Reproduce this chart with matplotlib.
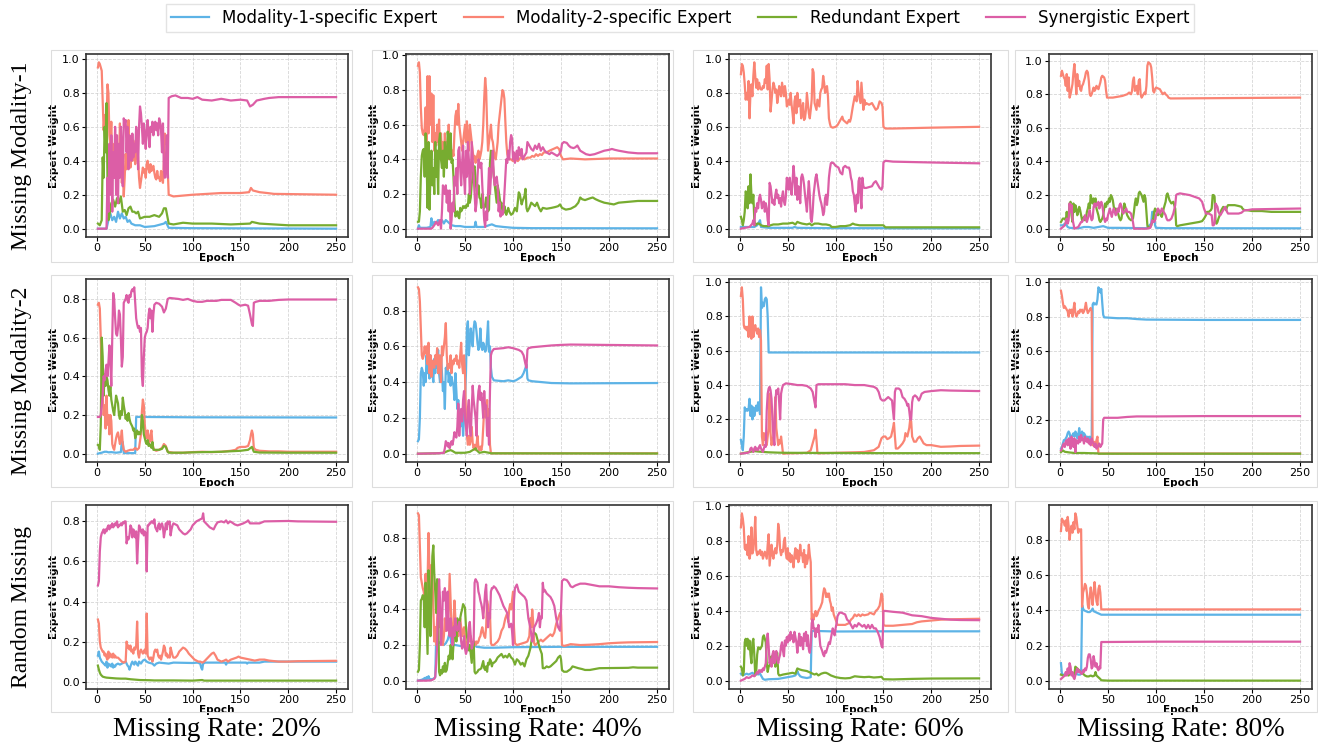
import matplotlib
matplotlib.use("Agg")
import matplotlib.pyplot as plt
from matplotlib.patches import Rectangle

# expert weight traces, (epoch, weight)
# row 1: missing modality-1
mm1_20_m1 = [(1,.0),(10,.0),(12,.05),(14,.09),(16,.05),(18,.07),(20,.04),(22,.1),(24,.06),(26,.09),(28,.06),(30,.07),(32,.04),(34,.05),(36,.03),(40,.02),(45,.02),(50,.01),(60,.015),(70,.03),(72,.04),(75,.005),(100,.003),(250,.0)]
mm1_20_m2 = [(1,.95),(2,.98),(3,.97),(5,.93),(6,.75),(7,.58),(8,.67),(9,.5),(10,.6),(11,.85),(12,.8),(13,.55),(14,.5),(15,.63),(16,.4),(17,.32),(18,.5),(19,.45),(20,.54),(21,.3),(22,.45),(23,.35),(24,.62),(25,.4),(26,.27),(27,.35),(28,.19),(29,.3),(30,.44),(31,.35),(32,.5),(33,.64),(34,.45),(35,.36),(36,.48),(37,.4),(38,.52),(39,.45),(40,.38),(41,.42),(42,.48),(43,.42),(44,.3),(45,.24),(46,.28),(47,.32),(48,.36),(49,.33),(50,.35),(51,.3),(52,.38),(53,.4),(54,.35),(55,.33),(56,.38),(57,.34),(58,.36),(59,.37),(60,.33),(61,.3),(62,.29),(63,.34),(64,.3),(65,.3),(66,.28),(67,.34),(68,.3),(69,.27),(70,.4),(71,.56),(72,.5),(73,.52),(74,.35),(75,.2),(80,.19),(90,.195),(100,.2),(115,.205),(130,.21),(150,.21),(159,.215),(161,.24),(163,.225),(170,.215),(178,.21),(185,.205),(250,.2)]
mm1_20_red = [(1,.03),(3,.02),(5,.05),(6,.42),(7,.3),(8,.6),(9,.45),(10,.74),(11,.3),(12,.05),(13,.08),(15,.15),(17,.17),(19,.13),(21,.18),(23,.15),(25,.19),(27,.1),(29,.11),(31,.08),(33,.12),(35,.13),(37,.1),(39,.1),(41,.09),(43,.1),(45,.06),(50,.07),(55,.07),(60,.08),(65,.07),(68,.09),(70,.12),(72,.12),(74,.06),(75,.03),(80,.025),(90,.035),(100,.03),(120,.03),(140,.025),(160,.03),(162,.04),(170,.03),(200,.02),(250,.02)]
mm1_20_syn = [(1,.0),(10,.0),(11,.3),(12,.1),(13,.5),(14,.2),(15,.55),(16,.1),(17,.45),(18,.3),(19,.6),(20,.2),(21,.55),(22,.15),(23,.5),(24,.3),(25,.6),(26,.45),(27,.25),(28,.65),(29,.62),(30,.64),(31,.45),(32,.6),(33,.35),(34,.55),(35,.5),(36,.4),(37,.56),(38,.42),(39,.5),(40,.45),(41,.6),(42,.55),(43,.35),(44,.6),(45,.72),(46,.68),(47,.6),(48,.5),(49,.62),(50,.55),(51,.47),(52,.58),(53,.64),(54,.55),(55,.48),(56,.6),(57,.57),(58,.63),(59,.55),(60,.6),(61,.63),(62,.58),(63,.62),(64,.55),(65,.65),(66,.63),(67,.58),(68,.45),(69,.62),(70,.35),(71,.3),(72,.4),(73,.55),(74,.3),(75,.77),(78,.78),(82,.785),(88,.77),(95,.77),(100,.765),(105,.775),(110,.76),(120,.755),(130,.765),(140,.755),(150,.76),(157,.755),(160,.72),(163,.73),(167,.755),(175,.765),(180,.77),(190,.775),(250,.775)]

mm1_40_m1 = [(1,.0),(2,.02),(3,.005),(10,.005),(14,.01),(15,.06),(16,.02),(18,.04),(20,.03),(22,.05),(24,.04),(26,.05),(28,.03),(30,.05),(32,.04),(34,.03),(36,.02),(40,.015),(45,.015),(50,.01),(58,.01),(60,.01),(61,.04),(62,.01),(70,.01),(75,.02),(78,.025),(82,.015),(90,.01),(100,.005),(120,.003),(250,.002)]
mm1_40_m2 = [(1,.94),(2,.96),(3,.9),(4,.7),(5,.58),(6,.55),(7,.54),(8,.58),(9,.7),(10,.5),(11,.88),(12,.55),(13,.88),(14,.6),(15,.78),(16,.5),(17,.77),(18,.45),(19,.55),(20,.48),(21,.6),(22,.5),(23,.63),(24,.45),(25,.55),(26,.42),(27,.5),(28,.4),(29,.55),(30,.45),(31,.5),(32,.4),(33,.6),(34,.45),(35,.5),(36,.4),(37,.45),(38,.42),(39,.55),(40,.65),(41,.68),(42,.6),(43,.72),(44,.6),(45,.55),(46,.5),(47,.45),(48,.5),(49,.55),(50,.6),(51,.5),(52,.62),(53,.5),(54,.45),(55,.6),(56,.55),(57,.5),(58,.45),(59,.4),(60,.42),(61,.38),(62,.4),(63,.43),(64,.45),(65,.4),(66,.42),(67,.45),(68,.5),(69,.6),(70,.75),(71,.87),(72,.8),(73,.6),(74,.45),(75,.5),(76,.55),(77,.6),(78,.52),(79,.5),(80,.45),(81,.42),(82,.4),(83,.45),(84,.5),(85,.6),(86,.65),(87,.7),(88,.75),(89,.8),(90,.79),(91,.75),(92,.62),(93,.5),(94,.43),(95,.41),(96,.4),(98,.4),(100,.39),(102,.4),(105,.39),(108,.41),(112,.4),(115,.41),(118,.41),(120,.42),(122,.415),(124,.43),(126,.42),(128,.43),(130,.425),(132,.44),(135,.44),(138,.45),(142,.46),(146,.47),(148,.46),(150,.42),(152,.4),(160,.405),(175,.4),(200,.405),(250,.405)]
mm1_40_red = [(1,.04),(2,.04),(3,.1),(4,.3),(5,.42),(6,.45),(7,.46),(8,.3),(9,.55),(10,.4),(11,.12),(12,.5),(13,.11),(14,.3),(15,.45),(16,.25),(17,.35),(18,.2),(19,.5),(20,.3),(21,.45),(22,.2),(23,.5),(24,.55),(25,.4),(26,.35),(27,.45),(28,.3),(29,.5),(30,.4),(31,.35),(32,.56),(33,.5),(34,.4),(35,.55),(36,.38),(37,.4),(38,.3),(39,.15),(40,.07),(41,.08),(42,.1),(43,.07),(44,.06),(45,.12),(46,.1),(47,.11),(48,.13),(49,.12),(50,.13),(51,.12),(52,.14),(53,.13),(54,.2),(55,.15),(56,.18),(57,.26),(58,.3),(59,.35),(60,.36),(61,.28),(62,.22),(63,.2),(64,.25),(65,.18),(66,.17),(67,.12),(68,.2),(69,.13),(70,.12),(71,.13),(72,.18),(73,.12),(74,.1),(75,.11),(76,.38),(77,.45),(78,.4),(79,.37),(80,.3),(81,.25),(82,.2),(83,.15),(84,.25),(85,.22),(86,.18),(87,.14),(88,.15),(89,.1),(90,.09),(91,.13),(92,.1),(93,.08),(94,.1),(95,.12),(96,.1),(97,.09),(98,.08),(100,.09),(102,.12),(104,.1),(106,.21),(107,.2),(109,.14),(110,.16),(112,.19),(113,.23),(114,.12),(115,.1),(117,.12),(119,.15),(121,.14),(123,.13),(125,.15),(127,.12),(129,.1),(131,.12),(135,.115),(140,.12),(144,.125),(147,.13),(149,.14),(151,.12),(155,.11),(160,.115),(165,.13),(168,.15),(170,.18),(172,.17),(175,.165),(180,.175),(183,.18),(186,.17),(190,.16),(195,.15),(200,.145),(205,.14),(210,.15),(220,.155),(230,.16),(250,.16)]
mm1_40_syn = [(1,.0),(15,.0),(16,.005),(18,.02),(20,.04),(22,.02),(24,.05),(25,.0),(26,.1),(27,.25),(28,.22),(29,.2),(30,.25),(31,.15),(32,.22),(33,.1),(34,.22),(35,.0),(36,.05),(37,.15),(38,.1),(39,.3),(40,.25),(41,.35),(42,.2),(43,.45),(44,.47),(45,.35),(46,.25),(47,.38),(48,.48),(49,.3),(50,.2),(51,.45),(52,.3),(53,.5),(54,.4),(55,.2),(56,.3),(57,.5),(58,.4),(59,.3),(60,.2),(61,.1),(62,.15),(63,.3),(64,.4),(65,.38),(66,.35),(67,.38),(68,.25),(69,.15),(70,.05),(71,.01),(72,.1),(73,.05),(74,.2),(75,.35),(76,.2),(77,.3),(78,.38),(79,.45),(80,.3),(81,.25),(82,.28),(83,.3),(84,.25),(85,.1),(86,.15),(87,.07),(88,.1),(89,.08),(90,.1),(91,.2),(92,.3),(93,.4),(94,.38),(95,.45),(96,.4),(97,.5),(98,.54),(99,.52),(100,.4),(101,.44),(102,.38),(103,.42),(104,.45),(105,.4),(106,.47),(107,.45),(108,.42),(109,.46),(110,.4),(112,.42),(114,.44),(115,.5),(117,.48),(119,.46),(121,.45),(123,.48),(125,.46),(127,.49),(129,.45),(131,.47),(133,.45),(135,.44),(138,.43),(140,.44),(143,.43),(146,.42),(148,.43),(150,.45),(151,.49),(153,.5),(156,.495),(158,.48),(160,.47),(163,.465),(165,.47),(167,.48),(170,.45),(173,.44),(176,.43),(180,.425),(185,.43),(190,.44),(195,.45),(200,.455),(203,.46),(206,.455),(210,.45),(220,.44),(230,.435),(250,.435)]

mm1_60_m1 = [(1,.01),(10,.01),(15,.01),(18,.02),(20,.04),(21,.05),(22,.01),(30,.005),(50,.005),(55,.005),(57,.01),(60,.005),(100,.003),(150,.003),(152,.002),(250,.002)]
mm1_60_m2 = [(1,.91),(2,.97),(3,.96),(4,.92),(5,.85),(6,.76),(7,.8),(8,.76),(9,.87),(10,.65),(11,.8),(12,.85),(13,.78),(14,.9),(15,.98),(16,.9),(17,.83),(18,.88),(19,.82),(20,.86),(21,.83),(22,.82),(23,.82),(24,.84),(25,.83),(26,.88),(27,.86),(28,.96),(29,.82),(30,.97),(31,.88),(32,.69),(33,.75),(34,.82),(35,.86),(36,.84),(37,.8),(38,.82),(39,.74),(40,.78),(41,.84),(42,.8),(43,.78),(44,.86),(45,.82),(46,.78),(47,.84),(48,.8),(49,.72),(50,.73),(51,.76),(52,.73),(53,.8),(54,.73),(55,.68),(56,.62),(57,.75),(58,.78),(59,.68),(60,.8),(61,.72),(62,.75),(63,.76),(64,.65),(65,.7),(66,.74),(67,.64),(68,.65),(69,.7),(70,.8),(71,.74),(72,.68),(73,.65),(74,.7),(75,.76),(76,.94),(77,.92),(78,.74),(79,.72),(80,.7),(81,.76),(82,.74),(83,.72),(84,.8),(85,.82),(86,.83),(87,.9),(88,.86),(89,.8),(90,.83),(91,.84),(92,.78),(93,.65),(94,.62),(95,.6),(97,.595),(100,.6),(102,.61),(104,.63),(106,.65),(107,.66),(108,.64),(110,.63),(112,.62),(114,.64),(115,.63),(116,.65),(118,.72),(120,.78),(122,.75),(123,.87),(124,.8),(126,.74),(127,.86),(128,.78),(129,.7),(130,.76),(131,.73),(132,.74),(135,.73),(138,.74),(140,.72),(142,.7),(144,.71),(146,.75),(148,.74),(149,.72),(150,.6),(152,.59),(160,.59),(200,.595),(250,.6)]
mm1_60_red = [(1,.07),(2,.05),(3,.02),(4,.05),(5,.1),(6,.22),(7,.2),(8,.12),(9,.25),(10,.15),(11,.32),(12,.2),(13,.15),(14,.2),(15,.05),(16,.02),(17,.025),(18,.03),(20,.03),(22,.02),(25,.015),(30,.015),(32,.02),(35,.025),(40,.025),(45,.03),(50,.03),(55,.035),(58,.025),(60,.04),(62,.035),(65,.03),(70,.025),(73,.03),(75,.02),(78,.03),(82,.03),(86,.025),(90,.025),(94,.02),(96,.01),(100,.01),(105,.015),(110,.015),(115,.02),(118,.03),(120,.025),(125,.02),(150,.02),(152,.008),(250,.008)]
mm1_60_syn = [(1,.0),(5,.005),(10,.01),(13,.03),(14,.05),(15,.02),(16,.12),(17,.1),(18,.15),(19,.12),(20,.18),(21,.2),(22,.17),(23,.12),(24,.15),(25,.16),(26,.1),(27,.15),(28,.12),(29,.05),(30,.02),(31,.27),(32,.25),(33,.2),(34,.15),(35,.17),(36,.14),(37,.2),(38,.23),(39,.18),(40,.2),(41,.15),(42,.18),(43,.13),(44,.19),(45,.22),(46,.16),(47,.14),(48,.19),(49,.3),(50,.25),(51,.23),(52,.3),(53,.24),(54,.2),(55,.28),(56,.37),(57,.3),(58,.2),(59,.3),(60,.17),(61,.25),(62,.22),(63,.15),(64,.3),(65,.32),(66,.3),(67,.26),(68,.2),(69,.15),(70,.1),(71,.2),(72,.28),(73,.2),(74,.06),(75,.04),(76,.1),(77,.2),(78,.25),(79,.3),(80,.32),(81,.28),(82,.24),(83,.2),(84,.17),(85,.15),(86,.12),(87,.08),(88,.1),(89,.18),(90,.2),(91,.14),(92,.2),(93,.3),(94,.35),(95,.385),(96,.39),(98,.385),(100,.37),(103,.36),(105,.33),(107,.32),(108,.36),(110,.37),(112,.36),(114,.36),(115,.34),(116,.3),(117,.28),(118,.22),(119,.2),(120,.15),(121,.1),(122,.2),(123,.15),(124,.28),(125,.3),(126,.19),(127,.12),(128,.3),(129,.25),(130,.24),(132,.24),(135,.245),(138,.25),(140,.27),(142,.28),(144,.26),(146,.24),(148,.23),(149,.25),(150,.39),(152,.4),(160,.395),(200,.39),(250,.385)]

mm1_80_m1 = [(1,.02),(3,.02),(5,.03),(7,.02),(8,.01),(10,.005),(20,.003),(25,.01),(30,.01),(35,.005),(40,.01),(45,.015),(50,.005),(60,.005),(90,.003),(95,.03),(96,.1),(97,.1),(98,.08),(99,.02),(100,.005),(110,.003),(250,.002)]
mm1_80_m2 = [(1,.91),(2,.94),(3,.92),(4,.9),(5,.89),(6,.85),(7,.92),(8,.82),(9,.9),(10,.78),(11,.8),(12,.83),(13,.86),(14,.93),(15,.98),(16,.9),(17,.8),(18,.92),(19,.85),(20,.88),(21,.83),(22,.82),(23,.85),(24,.86),(25,.88),(26,.9),(27,.93),(28,.94),(29,.93),(30,.88),(31,.8),(32,.79),(33,.8),(34,.82),(35,.84),(36,.82),(37,.83),(38,.85),(39,.84),(40,.83),(41,.85),(42,.87),(43,.9),(44,.91),(45,.905),(46,.9),(47,.88),(48,.82),(49,.78),(55,.78),(60,.785),(65,.79),(70,.8),(72,.81),(74,.8),(75,.82),(76,.88),(77,.9),(78,.82),(79,.84),(80,.85),(81,.8),(82,.88),(83,.89),(84,.8),(85,.78),(86,.79),(87,.8),(88,.81),(89,.8),(90,.85),(91,.97),(92,.99),(93,.985),(94,.98),(95,.96),(96,.9),(97,.82),(98,.81),(99,.83),(100,.84),(102,.835),(104,.83),(105,.82),(107,.8),(109,.81),(110,.8),(112,.79),(113,.78),(115,.775),(250,.78)]
mm1_80_red = [(1,.04),(2,.05),(3,.06),(5,.06),(6,.05),(7,.1),(8,.05),(9,.08),(10,.15),(11,.16),(12,.08),(13,.04),(14,.15),(15,.1),(16,.14),(17,.12),(18,.08),(19,.1),(20,.13),(21,.11),(22,.08),(23,.05),(24,.06),(25,.07),(26,.05),(27,.06),(28,.1),(29,.12),(30,.15),(31,.12),(32,.2),(33,.17),(34,.15),(35,.18),(36,.16),(37,.18),(38,.12),(39,.1),(40,.08),(41,.05),(42,.04),(43,.05),(44,.06),(45,.08),(46,.12),(47,.15),(48,.13),(49,.16),(50,.15),(51,.18),(52,.16),(53,.2),(54,.19),(55,.17),(56,.13),(57,.1),(58,.12),(59,.11),(60,.1),(61,.08),(62,.06),(63,.05),(64,.06),(65,.1),(66,.12),(67,.15),(68,.13),(69,.1),(70,.08),(72,.06),(74,.05),(76,.06),(77,.1),(78,.15),(79,.18),(80,.14),(81,.16),(82,.21),(83,.22),(84,.21),(85,.2),(86,.18),(87,.16),(88,.2),(89,.18),(90,.1),(91,.02),(92,.005),(93,.005),(94,.01),(95,.02),(96,.04),(97,.06),(98,.1),(99,.12),(100,.11),(101,.09),(102,.08),(103,.09),(104,.1),(105,.08),(106,.07),(107,.09),(108,.12),(110,.16),(111,.2),(112,.21),(113,.19),(114,.17),(115,.16),(116,.15),(118,.16),(120,.12),(121,.02),(122,.015),(125,.02),(130,.025),(135,.03),(140,.035),(145,.04),(148,.045),(150,.06),(152,.08),(153,.1),(155,.1),(157,.11),(158,.12),(159,.2),(160,.2),(161,.19),(162,.04),(163,.03),(164,.04),(165,.06),(167,.09),(168,.11),(169,.12),(170,.13),(172,.12),(173,.11),(174,.13),(175,.14),(178,.14),(182,.14),(186,.135),(189,.13),(190,.12),(192,.11),(195,.11),(200,.105),(210,.105),(220,.1),(250,.1)]
mm1_80_syn = [(1,.0),(3,.01),(5,.02),(6,.04),(7,.06),(8,.03),(9,.05),(10,.15),(11,.1),(12,.14),(13,.06),(14,.03),(15,.0),(17,.005),(19,.01),(20,.02),(21,.03),(22,.04),(23,.04),(24,.05),(25,.06),(26,.08),(27,.06),(28,.04),(29,.06),(30,.09),(31,.11),(32,.07),(33,.05),(34,.06),(35,.13),(36,.15),(37,.13),(38,.15),(39,.14),(40,.16),(41,.12),(42,.14),(43,.16),(44,.14),(45,.1),(46,.06),(47,.04),(48,.06),(49,.05),(50,.08),(51,.1),(52,.12),(53,.09),(54,.07),(55,.1),(56,.12),(57,.1),(58,.08),(59,.09),(60,.12),(61,.1),(62,.14),(63,.15),(64,.13),(65,.1),(66,.09),(67,.1),(68,.11),(69,.12),(70,.1),(72,.1),(74,.09),(76,.04),(77,.0),(90,.0),(94,.005),(95,.02),(96,.05),(97,.04),(98,.04),(99,.05),(100,.08),(101,.1),(102,.12),(103,.11),(104,.09),(105,.1),(106,.12),(108,.1),(110,.08),(111,.06),(112,.05),(114,.05),(116,.06),(118,.09),(120,.14),(121,.2),(122,.205),(125,.21),(130,.205),(135,.2),(140,.19),(145,.18),(148,.16),(150,.12),(152,.09),(155,.09),(158,.08),(159,.02),(160,.02),(161,.03),(162,.15),(163,.14),(164,.13),(165,.1),(167,.08),(168,.09),(170,.11),(172,.13),(174,.1),(175,.09),(186,.09),(189,.095),(190,.1),(192,.11),(195,.11),(200,.115),(250,.12)]

# row 2: missing modality-2
mm2_20_m1 = [(1,.0),(3,.003),(5,.005),(8,.01),(10,.01),(12,.007),(15,.008),(20,.005),(25,.008),(26,.065),(27,.06),(28,.003),(40,.003),(41,.19),(45,.19),(100,.188),(250,.187)]
mm2_20_m2 = [(1,.77),(2,.78),(3,.75),(4,.6),(5,.4),(6,.3),(7,.2),(8,.25),(9,.13),(10,.3),(11,.15),(12,.2),(13,.1),(14,.2),(15,.17),(16,.05),(17,.03),(18,.02),(19,.05),(20,.08),(21,.1),(22,.11),(23,.08),(24,.05),(25,.08),(26,.12),(27,.05),(28,.02),(30,.01),(32,.015),(35,.02),(38,.02),(40,.03),(42,.02),(44,.03),(46,.1),(47,.22),(48,.28),(49,.25),(50,.15),(51,.1),(52,.08),(53,.12),(54,.07),(55,.06),(56,.1),(57,.12),(58,.05),(59,.03),(60,.02),(62,.015),(65,.02),(68,.03),(70,.05),(72,.04),(74,.01),(80,.005),(90,.005),(100,.008),(110,.01),(120,.008),(130,.01),(140,.015),(145,.02),(147,.03),(150,.035),(155,.035),(158,.04),(160,.07),(161,.1),(162,.12),(163,.1),(164,.03),(166,.02),(170,.015),(180,.012),(190,.012),(200,.01),(250,.01)]
mm2_20_red = [(1,.045),(2,.04),(3,.02),(4,.15),(5,.6),(6,.5),(7,.3),(8,.41),(9,.35),(10,.4),(11,.38),(12,.33),(13,.3),(14,.35),(15,.28),(16,.25),(17,.22),(18,.2),(19,.25),(20,.3),(21,.28),(22,.26),(23,.2),(24,.18),(25,.22),(26,.2),(27,.29),(28,.25),(29,.22),(30,.18),(31,.2),(32,.17),(33,.21),(34,.18),(35,.16),(36,.15),(37,.14),(38,.12),(39,.13),(40,.08),(41,.1),(42,.12),(43,.1),(44,.11),(45,.1),(46,.12),(47,.2),(48,.17),(49,.1),(50,.08),(51,.06),(52,.05),(53,.07),(54,.04),(55,.05),(56,.04),(57,.03),(58,.06),(59,.02),(65,.02),(68,.025),(70,.04),(72,.035),(74,.01),(75,.005),(90,.005),(100,.007),(110,.008),(130,.01),(150,.015),(158,.02),(162,.035),(164,.01),(170,.006),(200,.005),(250,.005)]
mm2_20_syn = [(1,.19),(3,.19),(4,.2),(5,.25),(6,.3),(7,.4),(8,.38),(9,.43),(10,.46),(11,.4),(12,.47),(13,.56),(14,.48),(15,.35),(16,.6),(17,.83),(18,.8),(19,.7),(20,.62),(21,.61),(22,.65),(23,.74),(24,.72),(25,.6),(26,.45),(27,.5),(28,.78),(29,.79),(30,.8),(31,.82),(32,.79),(33,.78),(34,.82),(35,.81),(36,.84),(37,.85),(38,.84),(39,.86),(40,.78),(41,.7),(42,.67),(43,.65),(44,.66),(45,.63),(46,.65),(47,.4),(48,.35),(49,.5),(50,.6),(51,.62),(52,.63),(53,.65),(54,.72),(55,.75),(56,.7),(57,.74),(58,.63),(59,.72),(60,.77),(62,.78),(65,.775),(68,.76),(70,.73),(72,.75),(74,.8),(76,.805),(85,.8),(90,.795),(95,.8),(100,.79),(105,.785),(110,.785),(115,.79),(125,.79),(130,.795),(140,.795),(145,.78),(148,.77),(150,.765),(155,.77),(158,.765),(160,.72),(162,.67),(163,.66),(164,.78),(166,.785),(170,.79),(180,.79),(190,.795),(200,.797),(250,.797)]

mm2_40_m1 = [(1,.07),(2,.08),(3,.2),(4,.45),(5,.48),(6,.46),(7,.38),(8,.45),(9,.4),(10,.55),(11,.45),(12,.6),(13,.42),(14,.55),(15,.5),(16,.45),(17,.4),(18,.53),(19,.45),(20,.55),(21,.48),(22,.58),(23,.45),(24,.4),(25,.55),(26,.45),(27,.35),(28,.4),(29,.25),(30,.48),(31,.45),(32,.5),(33,.4),(34,.45),(35,.38),(36,.43),(37,.4),(38,.38),(39,.3),(40,.45),(41,.35),(42,.25),(43,.3),(44,.2),(45,.15),(46,.18),(47,.22),(48,.1),(49,.2),(50,.3),(51,.45),(52,.7),(53,.74),(54,.55),(55,.62),(56,.7),(57,.65),(58,.6),(59,.7),(60,.74),(61,.73),(62,.68),(63,.62),(64,.58),(65,.6),(66,.7),(67,.6),(68,.58),(69,.62),(70,.6),(71,.57),(72,.58),(73,.65),(74,.74),(75,.57),(76,.6),(77,.48),(78,.43),(80,.41),(90,.405),(95,.41),(100,.405),(103,.41),(106,.42),(109,.43),(111,.45),(113,.48),(114,.5),(115,.42),(116,.41),(120,.405),(130,.4),(140,.395),(160,.393),(250,.395)]
mm2_40_m2 = [(1,.93),(2,.92),(3,.85),(4,.7),(5,.55),(6,.53),(7,.55),(8,.6),(9,.56),(10,.6),(11,.5),(12,.62),(13,.45),(14,.55),(15,.43),(16,.52),(17,.5),(18,.48),(19,.55),(20,.5),(21,.59),(22,.45),(23,.55),(24,.5),(25,.4),(26,.6),(27,.55),(28,.6),(29,.65),(30,.73),(31,.55),(32,.47),(33,.5),(34,.48),(35,.55),(36,.45),(37,.52),(38,.5),(39,.53),(40,.52),(41,.55),(42,.5),(43,.52),(44,.48),(45,.55),(46,.62),(47,.5),(48,.45),(49,.55),(50,.45),(51,.2),(52,.1),(53,.05),(54,.1),(55,.05),(56,.08),(57,.15),(58,.06),(59,.03),(60,.05),(61,.02),(62,.05),(63,.1),(64,.03),(65,.02),(66,.04),(67,.02),(68,.05),(69,.15),(70,.25),(71,.28),(72,.2),(73,.3),(74,.1),(75,.25),(76,.05),(77,.002),(250,.002)]
mm2_40_red = [(1,.0),(20,.002),(28,.005),(30,.01),(32,.015),(35,.02),(37,.015),(40,.005),(50,.005),(55,.01),(58,.02),(60,.025),(61,.03),(62,.02),(65,.005),(70,.01),(75,.005),(77,.002),(250,.001)]
mm2_40_syn = [(1,.0),(20,.002),(25,.003),(28,.005),(29,.03),(30,.07),(31,.06),(32,.04),(33,.06),(34,.03),(35,.05),(36,.07),(37,.05),(38,.08),(39,.12),(40,.1),(41,.09),(42,.15),(43,.28),(44,.1),(45,.2),(46,.25),(47,.18),(48,.3),(49,.35),(50,.2),(51,.15),(52,.1),(53,.25),(54,.3),(55,.15),(56,.1),(57,.25),(58,.38),(59,.3),(60,.25),(61,.2),(62,.1),(63,.28),(64,.35),(65,.38),(66,.3),(67,.34),(68,.28),(69,.2),(70,.35),(71,.25),(72,.27),(73,.1),(74,.2),(75,.05),(76,.35),(77,.55),(78,.57),(80,.585),(90,.59),(95,.595),(100,.59),(103,.585),(106,.58),(109,.57),(111,.55),(113,.5),(114,.48),(115,.58),(116,.59),(120,.595),(130,.6),(140,.605),(150,.608),(160,.61),(250,.605)]

mm2_60_m1 = [(1,.08),(2,.05),(3,.02),(4,.1),(5,.27),(6,.25),(7,.26),(8,.25),(9,.26),(10,.32),(11,.22),(12,.28),(13,.2),(14,.27),(15,.22),(16,.25),(17,.28),(18,.25),(19,.3),(20,.27),(21,.23),(22,.97),(23,.85),(24,.88),(25,.86),(26,.9),(27,.91),(28,.9),(29,.8),(30,.59),(50,.59),(100,.59),(250,.59)]
mm2_60_m2 = [(1,.92),(2,.97),(3,.9),(4,.75),(5,.73),(6,.74),(7,.72),(8,.74),(9,.68),(10,.8),(11,.7),(12,.67),(13,.8),(14,.68),(15,.73),(16,.75),(17,.72),(18,.7),(19,.73),(20,.68),(21,.72),(22,.66),(23,.1),(24,.05),(25,.12),(26,.08),(27,.1),(28,.05),(29,.1),(30,.15),(31,.35),(32,.12),(33,.05),(34,.08),(35,.1),(36,.2),(37,.33),(38,.15),(39,.1),(40,.05),(41,.08),(42,.06),(43,.1),(44,.05),(45,.0),(50,.002),(60,.003),(70,.005),(74,.02),(76,.06),(78,.1),(79,.14),(80,.08),(81,.002),(100,.005),(120,.008),(130,.01),(140,.02),(145,.04),(148,.09),(150,.1),(152,.1),(154,.085),(156,.09),(158,.1),(160,.15),(161,.18),(162,.1),(163,.03),(165,.03),(167,.04),(170,.06),(172,.08),(173,.12),(175,.1),(177,.15),(178,.2),(179,.19),(180,.1),(182,.07),(184,.07),(186,.09),(188,.1),(190,.08),(192,.06),(195,.05),(200,.05),(205,.045),(210,.04),(220,.042),(230,.045),(250,.047)]
mm2_60_red = [(1,.0),(5,.005),(10,.01),(15,.015),(20,.012),(25,.01),(30,.008),(40,.006),(50,.005),(100,.004),(150,.003),(250,.003)]
mm2_60_syn = [(1,.0),(5,.003),(8,.005),(10,.01),(11,.03),(12,.035),(13,.02),(14,.01),(15,.03),(16,.04),(17,.02),(18,.03),(19,.02),(20,.04),(21,.05),(22,.03),(23,.02),(24,.01),(25,.03),(26,.05),(27,.04),(28,.25),(29,.35),(30,.38),(31,.39),(32,.37),(33,.32),(34,.2),(35,.1),(36,.05),(37,.3),(38,.37),(39,.35),(40,.38),(41,.3),(42,.2),(43,.35),(44,.38),(45,.4),(48,.41),(55,.405),(60,.4),(65,.4),(70,.395),(74,.38),(76,.36),(78,.3),(79,.27),(80,.4),(82,.405),(110,.405),(120,.4),(130,.4),(140,.39),(143,.38),(145,.36),(147,.32),(149,.31),(151,.31),(153,.32),(155,.33),(157,.32),(159,.31),(160,.25),(161,.2),(162,.36),(163,.38),(166,.38),(168,.37),(170,.33),(172,.32),(174,.3),(175,.28),(176,.29),(177,.25),(178,.2),(179,.2),(180,.3),(181,.33),(183,.34),(185,.33),(187,.31),(188,.32),(190,.35),(193,.36),(200,.365),(210,.37),(220,.368),(250,.365)]

mm2_80_m1 = [(1,.03),(2,.04),(3,.06),(4,.08),(5,.08),(6,.09),(7,.1),(8,.12),(9,.13),(10,.12),(11,.09),(12,.1),(13,.11),(14,.12),(15,.1),(16,.13),(17,.12),(18,.09),(19,.1),(20,.15),(21,.11),(22,.09),(23,.13),(24,.1),(25,.12),(26,.11),(27,.1),(28,.09),(29,.1),(30,.08),(31,.1),(32,.08),(33,.07),(34,.87),(35,.88),(36,.87),(37,.875),(38,.87),(39,.9),(40,.97),(41,.96),(42,.94),(43,.96),(44,.88),(45,.81),(46,.795),(60,.79),(70,.79),(80,.785),(90,.782),(150,.78),(250,.78)]
mm2_80_m2 = [(1,.95),(2,.92),(3,.88),(4,.85),(5,.86),(6,.85),(7,.84),(8,.83),(9,.8),(10,.84),(11,.82),(12,.84),(13,.8),(14,.84),(15,.88),(16,.82),(17,.8),(18,.81),(19,.83),(20,.82),(21,.84),(22,.83),(23,.84),(24,.82),(25,.83),(26,.85),(27,.88),(28,.84),(29,.82),(30,.83),(31,.84),(32,.85),(33,.83),(34,.05),(35,.06),(36,.07),(37,.04),(38,.08),(39,.1),(40,.002),(250,.002)]
mm2_80_red = [(1,.01),(2,.015),(3,.02),(5,.012),(10,.008),(15,.005),(25,.005),(30,.004),(39,.003),(40,.001),(250,.001)]
mm2_80_syn = [(1,.02),(2,.03),(3,.05),(4,.06),(5,.04),(6,.07),(7,.08),(8,.05),(9,.09),(10,.06),(11,.03),(12,.1),(13,.07),(14,.04),(15,.09),(16,.01),(17,.08),(18,.07),(19,.06),(20,.1),(21,.07),(22,.11),(23,.08),(24,.09),(25,.06),(26,.1),(27,.08),(28,.07),(29,.09),(30,.06),(31,.08),(32,.05),(33,.09),(34,.07),(35,.06),(36,.04),(37,.06),(38,.03),(39,.04),(40,.05),(41,.06),(42,.04),(43,.05),(44,.06),(45,.2),(46,.21),(60,.21),(70,.215),(80,.218),(100,.218),(150,.22),(250,.22)]

# row 3: random missing
rnd_20_m1 = [(1,.13),(2,.15),(3,.12),(4,.11),(5,.1),(6,.095),(7,.09),(8,.085),(9,.08),(10,.1),(11,.07),(12,.09),(13,.08),(14,.085),(15,.075),(16,.09),(17,.07),(18,.08),(19,.075),(20,.085),(22,.09),(24,.085),(26,.09),(28,.095),(30,.1),(31,.09),(32,.08),(33,.075),(34,.06),(35,.075),(36,.09),(37,.1),(38,.09),(39,.085),(40,.1),(41,.095),(42,.085),(43,.08),(44,.1),(45,.095),(46,.09),(48,.105),(50,.11),(52,.1),(54,.095),(58,.09),(60,.08),(62,.09),(65,.095),(75,.09),(80,.095),(100,.093),(105,.095),(108,.09),(109,.07),(110,.06),(111,.09),(113,.095),(134,.095),(135,.085),(136,.095),(156,.095),(157,.09),(158,.095),(170,.095),(175,.1),(250,.1)]
rnd_20_m2 = [(1,.31),(2,.29),(3,.2),(4,.17),(5,.16),(6,.15),(7,.15),(8,.13),(9,.14),(10,.12),(11,.11),(12,.15),(13,.12),(14,.14),(15,.13),(16,.12),(17,.14),(18,.12),(19,.13),(20,.12),(22,.12),(24,.11),(26,.1),(28,.095),(30,.1),(31,.2),(32,.17),(33,.18),(34,.16),(35,.18),(36,.15),(37,.16),(38,.14),(39,.17),(40,.16),(41,.18),(42,.3),(43,.14),(44,.12),(45,.15),(46,.16),(47,.15),(48,.14),(49,.15),(50,.16),(51,.14),(52,.34),(53,.13),(54,.12),(55,.11),(56,.12),(57,.12),(58,.1),(59,.12),(60,.15),(61,.16),(62,.15),(63,.16),(64,.13),(65,.12),(66,.13),(67,.11),(68,.13),(69,.15),(70,.18),(71,.17),(72,.13),(73,.14),(74,.12),(75,.13),(76,.12),(77,.17),(78,.15),(79,.13),(80,.12),(82,.12),(84,.13),(86,.15),(88,.16),(90,.17),(92,.165),(94,.155),(96,.14),(98,.13),(100,.12),(102,.11),(104,.105),(106,.1),(108,.1),(110,.095),(112,.1),(114,.11),(116,.12),(118,.13),(120,.14),(122,.145),(124,.13),(126,.11),(130,.1),(133,.105),(135,.11),(137,.1),(140,.11),(143,.115),(146,.12),(148,.125),(150,.12),(155,.115),(160,.11),(165,.105),(170,.11),(175,.11),(180,.105),(190,.1),(200,.1),(210,.102),(250,.104)]
rnd_20_red = [(1,.08),(2,.06),(3,.045),(4,.035),(5,.03),(6,.025),(8,.022),(10,.02),(15,.018),(20,.016),(25,.015),(30,.015),(35,.012),(40,.01),(45,.008),(55,.007),(60,.006),(80,.006),(100,.005),(110,.008),(112,.005),(200,.005),(250,.005)]
rnd_20_syn = [(1,.48),(2,.5),(3,.65),(4,.72),(5,.74),(6,.75),(7,.76),(8,.74),(9,.76),(10,.75),(11,.77),(12,.78),(13,.76),(14,.78),(15,.77),(16,.79),(17,.77),(18,.78),(19,.79),(20,.78),(21,.8),(22,.77),(23,.78),(24,.78),(25,.79),(26,.78),(27,.795),(28,.79),(29,.8),(30,.8),(31,.69),(32,.72),(33,.71),(34,.73),(35,.78),(36,.77),(37,.72),(38,.76),(39,.75),(40,.72),(41,.75),(42,.59),(43,.7),(44,.78),(45,.77),(46,.75),(47,.74),(48,.76),(49,.73),(50,.75),(51,.74),(52,.55),(53,.78),(54,.78),(55,.79),(56,.79),(57,.8),(58,.8),(59,.79),(60,.81),(61,.77),(62,.76),(63,.75),(64,.78),(65,.79),(66,.76),(67,.78),(68,.79),(69,.77),(70,.72),(71,.75),(72,.79),(73,.76),(74,.8),(75,.79),(76,.8),(77,.73),(78,.76),(79,.78),(80,.79),(82,.785),(84,.78),(86,.76),(88,.75),(90,.74),(92,.735),(94,.74),(96,.75),(98,.76),(100,.78),(102,.79),(104,.8),(106,.805),(108,.81),(110,.815),(111,.84),(112,.8),(114,.79),(116,.78),(118,.77),(120,.765),(122,.76),(124,.78),(126,.795),(130,.8),(133,.795),(135,.805),(137,.79),(139,.8),(141,.795),(144,.785),(147,.78),(150,.785),(153,.79),(157,.8),(158,.805),(160,.79),(170,.79),(175,.8),(200,.802),(210,.8),(250,.798)]

rnd_40_m1 = [(1,.0),(5,.005),(7,.01),(8,.015),(9,.005),(10,.02),(11,.01),(12,.025),(13,.01),(14,.005),(15,.008),(17,.01),(18,.015),(19,.02),(20,.25),(22,.22),(24,.21),(26,.21),(28,.2),(30,.21),(32,.23),(34,.27),(35,.24),(36,.2),(40,.2),(45,.195),(50,.19),(55,.19),(60,.2),(62,.19),(70,.185),(80,.185),(100,.188),(150,.19),(250,.19)]
rnd_40_m2 = [(1,.94),(2,.93),(3,.75),(4,.58),(5,.55),(6,.52),(7,.5),(8,.45),(9,.6),(10,.38),(11,.55),(12,.83),(13,.6),(14,.45),(15,.65),(16,.6),(17,.4),(18,.22),(19,.3),(20,.2),(21,.35),(22,.45),(23,.5),(24,.3),(25,.35),(26,.25),(27,.2),(28,.25),(29,.35),(30,.28),(31,.32),(32,.3),(33,.4),(34,.6),(35,.45),(36,.3),(37,.25),(38,.3),(39,.45),(40,.35),(41,.3),(42,.28),(43,.25),(44,.32),(45,.35),(46,.3),(47,.25),(48,.28),(49,.3),(50,.25),(51,.2),(52,.18),(53,.22),(54,.25),(55,.22),(56,.25),(57,.22),(58,.2),(59,.18),(60,.22),(61,.2),(62,.22),(63,.21),(64,.22),(65,.24),(66,.25),(67,.28),(68,.3),(69,.27),(70,.25),(71,.24),(72,.3),(73,.45),(74,.42),(75,.35),(76,.38),(77,.21),(78,.2),(80,.2),(82,.21),(84,.22),(86,.24),(88,.28),(90,.3),(92,.35),(94,.38),(95,.33),(96,.4),(97,.43),(98,.4),(99,.45),(100,.5),(101,.3),(102,.21),(104,.2),(107,.205),(110,.21),(113,.215),(115,.22),(117,.25),(118,.35),(119,.3),(120,.4),(121,.33),(122,.21),(123,.2),(125,.21),(127,.22),(129,.23),(131,.22),(133,.23),(135,.24),(137,.25),(139,.26),(141,.25),(143,.27),(145,.32),(147,.35),(149,.38),(150,.37),(151,.2),(153,.195),(157,.2),(160,.205),(170,.2),(180,.202),(190,.205),(200,.21),(210,.213),(220,.215),(250,.217)]
rnd_40_red = [(1,.05),(2,.06),(3,.2),(4,.45),(5,.46),(6,.48),(7,.47),(8,.3),(9,.55),(10,.35),(11,.15),(12,.62),(13,.5),(14,.25),(15,.45),(16,.7),(17,.76),(18,.6),(19,.5),(20,.38),(21,.57),(22,.4),(23,.05),(24,.03),(25,.06),(26,.04),(27,.08),(28,.05),(29,.1),(30,.05),(31,.06),(32,.1),(33,.14),(34,.12),(35,.2),(36,.17),(37,.12),(38,.2),(39,.3),(40,.32),(41,.22),(42,.35),(43,.28),(44,.3),(45,.35),(46,.38),(47,.4),(48,.43),(49,.42),(50,.41),(51,.3),(52,.25),(53,.22),(54,.17),(55,.2),(56,.15),(57,.1),(58,.2),(59,.22),(60,.05),(61,.04),(62,.045),(63,.05),(64,.06),(66,.065),(67,.07),(68,.09),(69,.11),(70,.07),(71,.06),(72,.08),(73,.05),(74,.1),(75,.09),(76,.12),(77,.11),(78,.08),(79,.1),(80,.1),(82,.11),(84,.13),(86,.14),(88,.15),(90,.13),(92,.14),(94,.13),(96,.15),(98,.13),(100,.12),(102,.09),(104,.12),(106,.11),(108,.09),(110,.1),(112,.08),(114,.12),(116,.14),(118,.18),(120,.25),(122,.27),(124,.26),(126,.22),(128,.18),(130,.15),(131,.07),(133,.07),(135,.08),(137,.075),(139,.08),(141,.09),(143,.1),(145,.11),(147,.13),(149,.14),(150,.12),(151,.06),(153,.05),(156,.05),(160,.065),(162,.08),(165,.075),(168,.07),(172,.065),(175,.06),(180,.06),(185,.065),(190,.07),(220,.072),(225,.075),(230,.073),(250,.073)]
rnd_40_syn = [(1,.0),(10,.0),(15,.002),(18,.01),(19,.02),(20,.1),(21,.2),(22,.4),(23,.57),(24,.45),(25,.2),(26,.3),(27,.5),(28,.45),(29,.52),(30,.45),(31,.28),(32,.5),(33,.3),(34,.25),(35,.35),(36,.27),(37,.2),(38,.3),(39,.25),(40,.35),(41,.3),(42,.28),(43,.3),(44,.33),(45,.28),(46,.22),(47,.18),(48,.2),(49,.25),(50,.18),(51,.15),(52,.17),(53,.2),(54,.3),(55,.33),(56,.25),(57,.18),(58,.2),(59,.22),(60,.55),(61,.57),(62,.56),(63,.55),(64,.5),(65,.48),(66,.45),(67,.43),(68,.4),(69,.35),(70,.42),(71,.5),(72,.54),(73,.4),(74,.3),(75,.38),(76,.35),(77,.5),(78,.52),(79,.52),(80,.53),(82,.52),(84,.5),(86,.48),(88,.45),(90,.42),(92,.4),(94,.38),(96,.3),(98,.32),(99,.28),(100,.2),(101,.45),(102,.52),(104,.54),(106,.5),(108,.49),(110,.48),(112,.47),(114,.45),(116,.35),(118,.3),(120,.22),(121,.25),(122,.3),(124,.32),(126,.35),(127,.38),(128,.3),(129,.36),(130,.35),(131,.55),(132,.5),(133,.51),(135,.49),(137,.48),(139,.47),(141,.45),(143,.42),(145,.35),(147,.3),(149,.28),(150,.4),(151,.56),(153,.57),(156,.565),(158,.55),(160,.53),(162,.525),(165,.535),(170,.545),(175,.545),(180,.54),(185,.535),(190,.53),(200,.53),(210,.525),(220,.522),(230,.52),(250,.518)]

rnd_60_m1 = [(1,.04),(3,.03),(5,.035),(7,.04),(9,.035),(11,.04),(13,.045),(15,.035),(17,.04),(19,.035),(21,.04),(22,.03),(23,.02),(24,.01),(26,.005),(30,.008),(40,.01),(45,.015),(50,.02),(55,.025),(58,.03),(59,.04),(60,.055),(61,.04),(63,.025),(65,.02),(70,.015),(74,.02),(75,.285),(80,.285),(100,.282),(150,.283),(250,.283)]
rnd_60_m2 = [(1,.88),(2,.96),(3,.93),(4,.88),(5,.76),(6,.75),(7,.78),(8,.72),(9,.83),(10,.7),(11,.73),(12,.88),(13,.73),(14,.75),(15,.82),(16,.94),(17,.75),(18,.72),(19,.74),(20,.73),(21,.75),(22,.72),(23,.74),(24,.7),(25,.72),(26,.74),(27,.72),(28,.7),(29,.78),(30,.84),(31,.66),(32,.72),(33,.78),(34,.72),(35,.7),(36,.74),(37,.76),(38,.73),(39,.78),(40,.9),(41,.86),(42,.75),(43,.72),(44,.75),(45,.74),(46,.8),(47,.82),(48,.73),(49,.7),(50,.76),(51,.69),(52,.73),(53,.68),(54,.72),(55,.7),(56,.65),(57,.72),(58,.76),(59,.7),(60,.75),(61,.68),(62,.7),(63,.78),(64,.72),(65,.73),(66,.68),(67,.75),(68,.65),(69,.72),(70,.67),(71,.7),(72,.78),(73,.72),(74,.68),(75,.35),(76,.38),(77,.35),(78,.38),(79,.4),(80,.37),(81,.38),(82,.4),(84,.42),(86,.45),(87,.5),(88,.53),(89,.52),(90,.48),(91,.5),(92,.48),(93,.5),(94,.46),(95,.44),(96,.4),(97,.42),(98,.38),(100,.35),(102,.32),(110,.32),(114,.33),(116,.35),(118,.36),(120,.38),(122,.37),(124,.38),(126,.37),(128,.38),(130,.375),(134,.38),(136,.39),(138,.385),(140,.38),(142,.4),(144,.41),(146,.43),(148,.5),(149,.48),(150,.32),(152,.315),(160,.315),(170,.32),(180,.325),(185,.335),(190,.34),(200,.345),(210,.35),(220,.352),(250,.355)]
rnd_60_red = [(1,.08),(2,.07),(3,.03),(4,.05),(5,.22),(6,.24),(7,.2),(8,.24),(9,.18),(10,.23),(11,.15),(12,.1),(13,.22),(14,.24),(15,.15),(16,.03),(17,.05),(18,.15),(19,.19),(20,.19),(21,.18),(22,.19),(23,.2),(24,.25),(25,.26),(26,.24),(27,.22),(28,.1),(29,.05),(30,.08),(31,.09),(32,.12),(33,.14),(34,.1),(35,.13),(36,.12),(37,.08),(38,.15),(39,.16),(40,.04),(41,.03),(42,.03),(45,.035),(50,.04),(55,.045),(58,.04),(60,.07),(62,.065),(65,.06),(70,.055),(72,.05),(74,.045),(76,.04),(78,.035),(80,.04),(82,.03),(85,.04),(88,.045),(90,.045),(92,.04),(95,.03),(100,.02),(105,.015),(110,.013),(115,.015),(120,.025),(125,.022),(130,.02),(135,.022),(140,.018),(145,.02),(148,.022),(150,.008),(160,.007),(180,.01),(200,.012),(250,.013)]
rnd_60_syn = [(1,.0),(3,.005),(5,.01),(7,.02),(9,.015),(11,.02),(13,.03),(15,.025),(17,.04),(18,.05),(19,.04),(20,.06),(21,.05),(22,.06),(23,.05),(24,.07),(25,.06),(26,.08),(27,.1),(28,.22),(29,.27),(30,.2),(31,.1),(32,.12),(33,.08),(34,.15),(35,.17),(36,.1),(37,.14),(38,.17),(39,.12),(40,.1),(41,.13),(42,.15),(43,.2),(44,.22),(45,.17),(46,.14),(47,.23),(48,.2),(49,.25),(50,.22),(51,.26),(52,.23),(53,.28),(54,.24),(55,.26),(56,.22),(57,.28),(58,.25),(59,.22),(60,.16),(61,.22),(62,.27),(63,.2),(64,.25),(65,.22),(66,.18),(67,.27),(68,.23),(69,.28),(70,.2),(71,.26),(72,.18),(73,.16),(74,.2),(75,.33),(76,.35),(77,.3),(78,.3),(79,.25),(80,.3),(81,.28),(82,.32),(84,.2),(86,.17),(87,.15),(88,.14),(89,.17),(90,.16),(91,.18),(92,.2),(93,.22),(94,.21),(95,.24),(96,.27),(97,.3),(98,.28),(99,.26),(100,.3),(101,.33),(102,.37),(104,.39),(106,.39),(108,.385),(110,.38),(112,.35),(114,.34),(116,.32),(118,.3),(120,.32),(122,.31),(124,.33),(126,.32),(128,.31),(130,.32),(132,.3),(134,.32),(136,.3),(138,.32),(140,.3),(142,.3),(144,.28),(146,.25),(148,.2),(149,.19),(150,.4),(152,.4),(160,.395),(170,.39),(180,.375),(190,.37),(200,.36),(210,.355),(220,.35),(230,.348),(250,.347)]

rnd_80_m1 = [(1,.1),(2,.04),(3,.035),(5,.035),(7,.04),(9,.045),(11,.04),(17,.04),(19,.035),(21,.035),(22,.04),(23,.43),(24,.41),(25,.4),(27,.395),(29,.39),(31,.39),(33,.4),(34,.41),(35,.395),(37,.39),(39,.385),(41,.38),(43,.375),(100,.375),(250,.375)]
rnd_80_m2 = [(1,.85),(2,.92),(3,.91),(4,.9),(5,.88),(6,.91),(7,.85),(8,.93),(9,.88),(10,.8),(11,.85),(12,.88),(13,.84),(14,.9),(15,.86),(16,.95),(17,.93),(18,.88),(19,.84),(20,.86),(21,.85),(22,.86),(23,.42),(24,.5),(25,.52),(26,.55),(27,.54),(28,.5),(29,.43),(30,.41),(31,.48),(32,.53),(33,.48),(34,.43),(35,.5),(36,.56),(37,.5),(38,.45),(39,.43),(40,.52),(41,.54),(42,.5),(43,.405),(250,.405)]
rnd_80_red = [(1,.035),(3,.03),(5,.03),(7,.035),(9,.03),(11,.05),(13,.04),(15,.035),(16,.08),(17,.075),(18,.07),(19,.065),(20,.06),(21,.05),(22,.045),(24,.04),(26,.03),(28,.025),(30,.025),(32,.03),(34,.025),(36,.03),(37,.05),(38,.03),(40,.02),(42,.01),(43,.003),(50,.001),(250,.001)]
rnd_80_syn = [(1,.01),(3,.02),(5,.03),(6,.05),(7,.03),(8,.07),(9,.04),(10,.1),(11,.08),(12,.03),(13,.05),(14,.02),(15,.01),(16,.03),(17,.05),(18,.07),(19,.05),(20,.06),(21,.05),(22,.04),(23,.04),(24,.06),(25,.05),(26,.07),(27,.06),(28,.08),(29,.13),(30,.15),(31,.15),(32,.12),(33,.07),(34,.08),(35,.14),(36,.11),(37,.08),(38,.1),(39,.07),(40,.06),(41,.08),(42,.07),(43,.22),(100,.222),(250,.222)]

row_names = ["Missing Modality-1", "Missing Modality-2", "Random Missing"]
rate_names = ["Missing Rate: 20%", "Missing Rate: 40%", "Missing Rate: 60%", "Missing Rate: 80%"]
expert_names = ["Modality-1-specific Expert", "Modality-2-specific Expert", "Redundant Expert", "Synergistic Expert"]
colors = ["#5DB3E6", "#FA8474", "#77AC30", "#DC5EA6"]

grid = [
    [(mm1_20_m1, mm1_20_m2, mm1_20_red, mm1_20_syn), (mm1_40_m1, mm1_40_m2, mm1_40_red, mm1_40_syn),
     (mm1_60_m1, mm1_60_m2, mm1_60_red, mm1_60_syn), (mm1_80_m1, mm1_80_m2, mm1_80_red, mm1_80_syn)],
    [(mm2_20_m1, mm2_20_m2, mm2_20_red, mm2_20_syn), (mm2_40_m1, mm2_40_m2, mm2_40_red, mm2_40_syn),
     (mm2_60_m1, mm2_60_m2, mm2_60_red, mm2_60_syn), (mm2_80_m1, mm2_80_m2, mm2_80_red, mm2_80_syn)],
    [(rnd_20_m1, rnd_20_m2, rnd_20_red, rnd_20_syn), (rnd_40_m1, rnd_40_m2, rnd_40_red, rnd_40_syn),
     (rnd_60_m1, rnd_60_m2, rnd_60_red, rnd_60_syn), (rnd_80_m1, rnd_80_m2, rnd_80_red, rnd_80_syn)],
]

W, H = 1318, 747
fig = plt.figure(figsize=(W / 100, H / 100), dpi=100)

col_l = [86, 406, 729, 1049]
col_r = [348, 669, 991, 1312]
row_t = [54, 279, 505]
row_b = [237, 462, 689]
box_x = [(51, 352), (372, 673), (693, 1008), (1015, 1317)]
box_y = [(50, 262), (275, 487), (501, 712)]

handles = []
for i in range(3):
    for j in range(4):
        # faint frame round each sub-figure
        bx0, bx1 = box_x[j]
        by0, by1 = box_y[i]
        fig.patches.append(Rectangle((bx0 / W, 1 - by1 / H), (bx1 - bx0) / W, (by1 - by0) / H,
                                     transform=fig.transFigure, fill=False,
                                     edgecolor="#dddddd", linewidth=0.8))
        ax = fig.add_axes([col_l[j] / W, 1 - row_b[i] / H,
                           (col_r[j] - col_l[j]) / W, (row_b[i] - row_t[i]) / H])
        for k, series in enumerate(grid[i][j]):
            ep = [p[0] for p in series]
            w = [p[1] for p in series]
            ln, = ax.plot(ep, w, color=colors[k], linewidth=1.6, label=expert_names[k])
            if i == 0 and j == 0:
                handles.append(ln)
        ax.set_xticks([0, 50, 100, 150, 200, 250])
        ax.grid(True, linestyle="--", linewidth=0.6, color="#cccccc", alpha=0.8)
        ax.tick_params(labelsize=8, length=3, width=0.8, pad=1.5)
        ax.set_xlabel("Epoch", fontsize=7.5, fontweight="bold", labelpad=0)
        ax.set_ylabel("Expert Weight", fontsize=7.5, fontweight="bold", labelpad=2)
        for s in ax.spines.values():
            s.set_color("#333333")
            s.set_linewidth(1.2)

for i, name in enumerate(row_names):
    yc = 1 - (box_y[i][0] + box_y[i][1]) / 2 / H
    fig.text(22 / W, yc, name, rotation=90, ha="center", va="center",
             fontsize=17, family="Liberation Serif")

for j, name in enumerate(rate_names):
    xc = (col_l[j] + col_r[j]) / 2 / W
    fig.text(xc, 1 - 729 / H, name, ha="center", va="center",
             fontsize=19.5, family="Liberation Serif")

fig.legend(handles=handles, loc="center", bbox_to_anchor=(680 / W, 1 - 18 / H), ncol=4,
           fontsize=12, frameon=True, edgecolor="#dddddd", fancybox=False,
           handlelength=2.3, columnspacing=1.6, borderpad=0.3)

fig.savefig("out.png", dpi=100)
